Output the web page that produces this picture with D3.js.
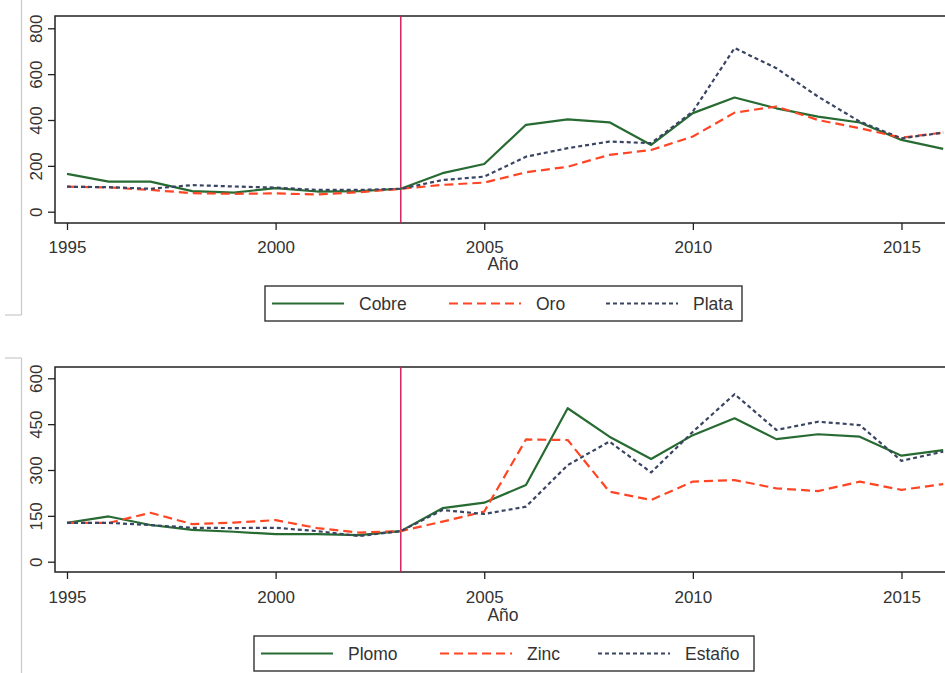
<!DOCTYPE html>
<html>
<head>
<meta charset="utf-8">
<script src="https://cdn.jsdelivr.net/npm/d3@7"></script>
<style>
  html, body { margin: 0; padding: 0; background: #fff; }
  svg { display: block; font-family: "Liberation Sans", Arial, Helvetica, sans-serif; }
</style>
</head>
<body>
<svg id="chart" width="945" height="673"></svg>
<script>
// ---------- DATA ----------
const years = [1995,1996,1997,1998,1999,2000,2001,2002,2003,2004,2005,2006,2007,2008,2009,2010,2011,2012,2013,2014,2015,2016];

const cobre = [165,131,131,90,83,103,88,90,100,168,208,379,403,390,291,430,498,451,415,389,313,274];
const oro   = [109,106,95,81,78,80,75,85,100,117,127,172,196,248,269,328,432,459,400,364,323,345];
const plata = [109,107,100,116,110,105,95,95,100,138,153,240,277,306,299,437,714,626,502,393,320,345];

const plomo  = [127,148,120,104,98,90,90,87,100,175,193,251,502,409,336,414,469,401,417,409,347,365];
const zinc   = [127,127,160,123,128,136,110,95,100,131,164,400,398,229,202,262,267,240,231,262,235,254];
const estano = [127,127,120,111,110,111,100,84,100,169,156,180,316,393,292,425,548,431,458,447,330,360];

const xTicks = [1995,2000,2005,2010,2015];
const yTicksTop = [0,200,400,600,800];
const yTicksBottom = [0,150,300,450,600];

const legendTop = ["Cobre","Oro","Plata"];
const legendBottom = ["Plomo","Zinc","Estaño"];
const breakYear = 2003;
const xLabel = "Año";

// ---------- STYLE ----------
const styles = [
  {color:"#276b32", dash:null,  width:2.2},
  {color:"#ff4524", dash:"9,5", width:2.2},
  {color:"#3a4563", dash:"4,3", width:2.2}
];
const textColor = "#333";
const svg = d3.select("#chart");

const x = d3.scaleLinear().domain([1995, 2016]).range([67, 943.2]);

function panel(cfg) {
  const g = svg.append("g");
  const y = d3.scaleLinear().domain([0, cfg.yMax]).range([cfg.y0, cfg.yTop]);

  // faint outer frame artefacts
  g.append("line").attr("x1",21.5).attr("x2",21.5).attr("y1",cfg.frameY1).attr("y2",cfg.frameY2)
    .attr("stroke","#c8c8c8").attr("stroke-width",1.2);
  g.append("line").attr("x1",5).attr("x2",21.5).attr("y1",cfg.frameH).attr("y2",cfg.frameH)
    .attr("stroke","#c8c8c8").attr("stroke-width",1.2);

  // plot box (open right)
  g.append("path")
    .attr("d", `M945,${cfg.boxTop}H55V${cfg.boxBottom}H945`)
    .attr("fill","none").attr("stroke","#222").attr("stroke-width",1.5);

  // x axis
  const xa = g.append("g").attr("transform",`translate(0,${cfg.boxBottom})`)
    .call(d3.axisBottom(x).tickValues(xTicks).tickFormat(d3.format("d")).tickSize(7).tickPadding(6));
  xa.select(".domain").remove();
  xa.selectAll(".tick line").attr("stroke","#222").attr("stroke-width",1.3);
  xa.selectAll(".tick text").attr("font-size","17px").attr("fill",textColor)
    .attr("font-family","Liberation Sans, Arial, sans-serif")
    .attr("dy", null).attr("y", cfg.xTickBase - cfg.boxBottom);

  // y axis
  const ya = g.append("g").attr("transform",`translate(55,0)`)
    .call(d3.axisLeft(y).tickValues(cfg.yTicks).tickSize(7));
  ya.select(".domain").remove();
  ya.selectAll(".tick line").attr("stroke","#222").attr("stroke-width",1.3);
  ya.selectAll(".tick text")
    .attr("font-size","17px").attr("fill",textColor)
    .attr("font-family","Liberation Sans, Arial, sans-serif")
    .attr("x",null).attr("dy",null)
    .attr("text-anchor","middle")
    .attr("transform","translate(-13,0) rotate(-90)");

  // x label
  g.append("text").attr("x",503).attr("y",cfg.xLabelBase).attr("text-anchor","middle")
    .attr("font-size","17.5px").attr("fill",textColor).text(xLabel);

  // vertical break line
  g.append("line").attr("x1",x(breakYear)).attr("x2",x(breakYear))
    .attr("y1",cfg.boxTop).attr("y2",cfg.boxBottom)
    .attr("stroke","#cf1650").attr("stroke-width",1.4);

  // series
  const line = d3.line().x((d,i)=>x(years[i])).y(d=>y(d));
  cfg.series.forEach((s,k)=>{
    g.append("path").datum(s).attr("d",line).attr("fill","none")
      .attr("stroke",styles[k].color).attr("stroke-width",styles[k].width)
      .attr("stroke-dasharray",styles[k].dash).attr("stroke-linejoin","round");
  });

  // legend
  const L = cfg.legend;
  g.append("rect").attr("x",L.x).attr("y",L.y).attr("width",L.w).attr("height",L.h)
    .attr("fill","#fff").attr("stroke","#333").attr("stroke-width",1.4);
  cfg.names.forEach((n,k)=>{
    const lx = L.items[k];
    g.append("line").attr("x1",lx).attr("x2",lx+72).attr("y1",L.y+L.h/2).attr("y2",L.y+L.h/2)
      .attr("stroke",styles[k].color).attr("stroke-width",styles[k].width)
      .attr("stroke-dasharray",styles[k].dash);
    g.append("text").attr("x",lx+87).attr("y",L.y+L.h/2+6.5).attr("font-size","17.5px")
      .attr("fill",textColor).text(n);
  });
}

panel({
  yMax:800, y0:211.7, yTop:28.3, yTicks:yTicksTop,
  boxTop:16, boxBottom:223, xTickBase:253, xLabelBase:270,
  frameY1:0, frameY2:315, frameH:315,
  series:[cobre,oro,plata], names:legendTop,
  legend:{x:265, y:286, w:477, h:35, items:[272,449,606]}
});

panel({
  yMax:600, y0:561.7, yTop:378.3, yTicks:yTicksBottom,
  boxTop:367, boxBottom:572, xTickBase:603, xLabelBase:621,
  frameY1:358, frameY2:673, frameH:358,
  series:[plomo,zinc,estano], names:legendBottom,
  legend:{x:254, y:636, w:500, h:35, items:[261,440,598]}
});
</script>
</body>
</html>
